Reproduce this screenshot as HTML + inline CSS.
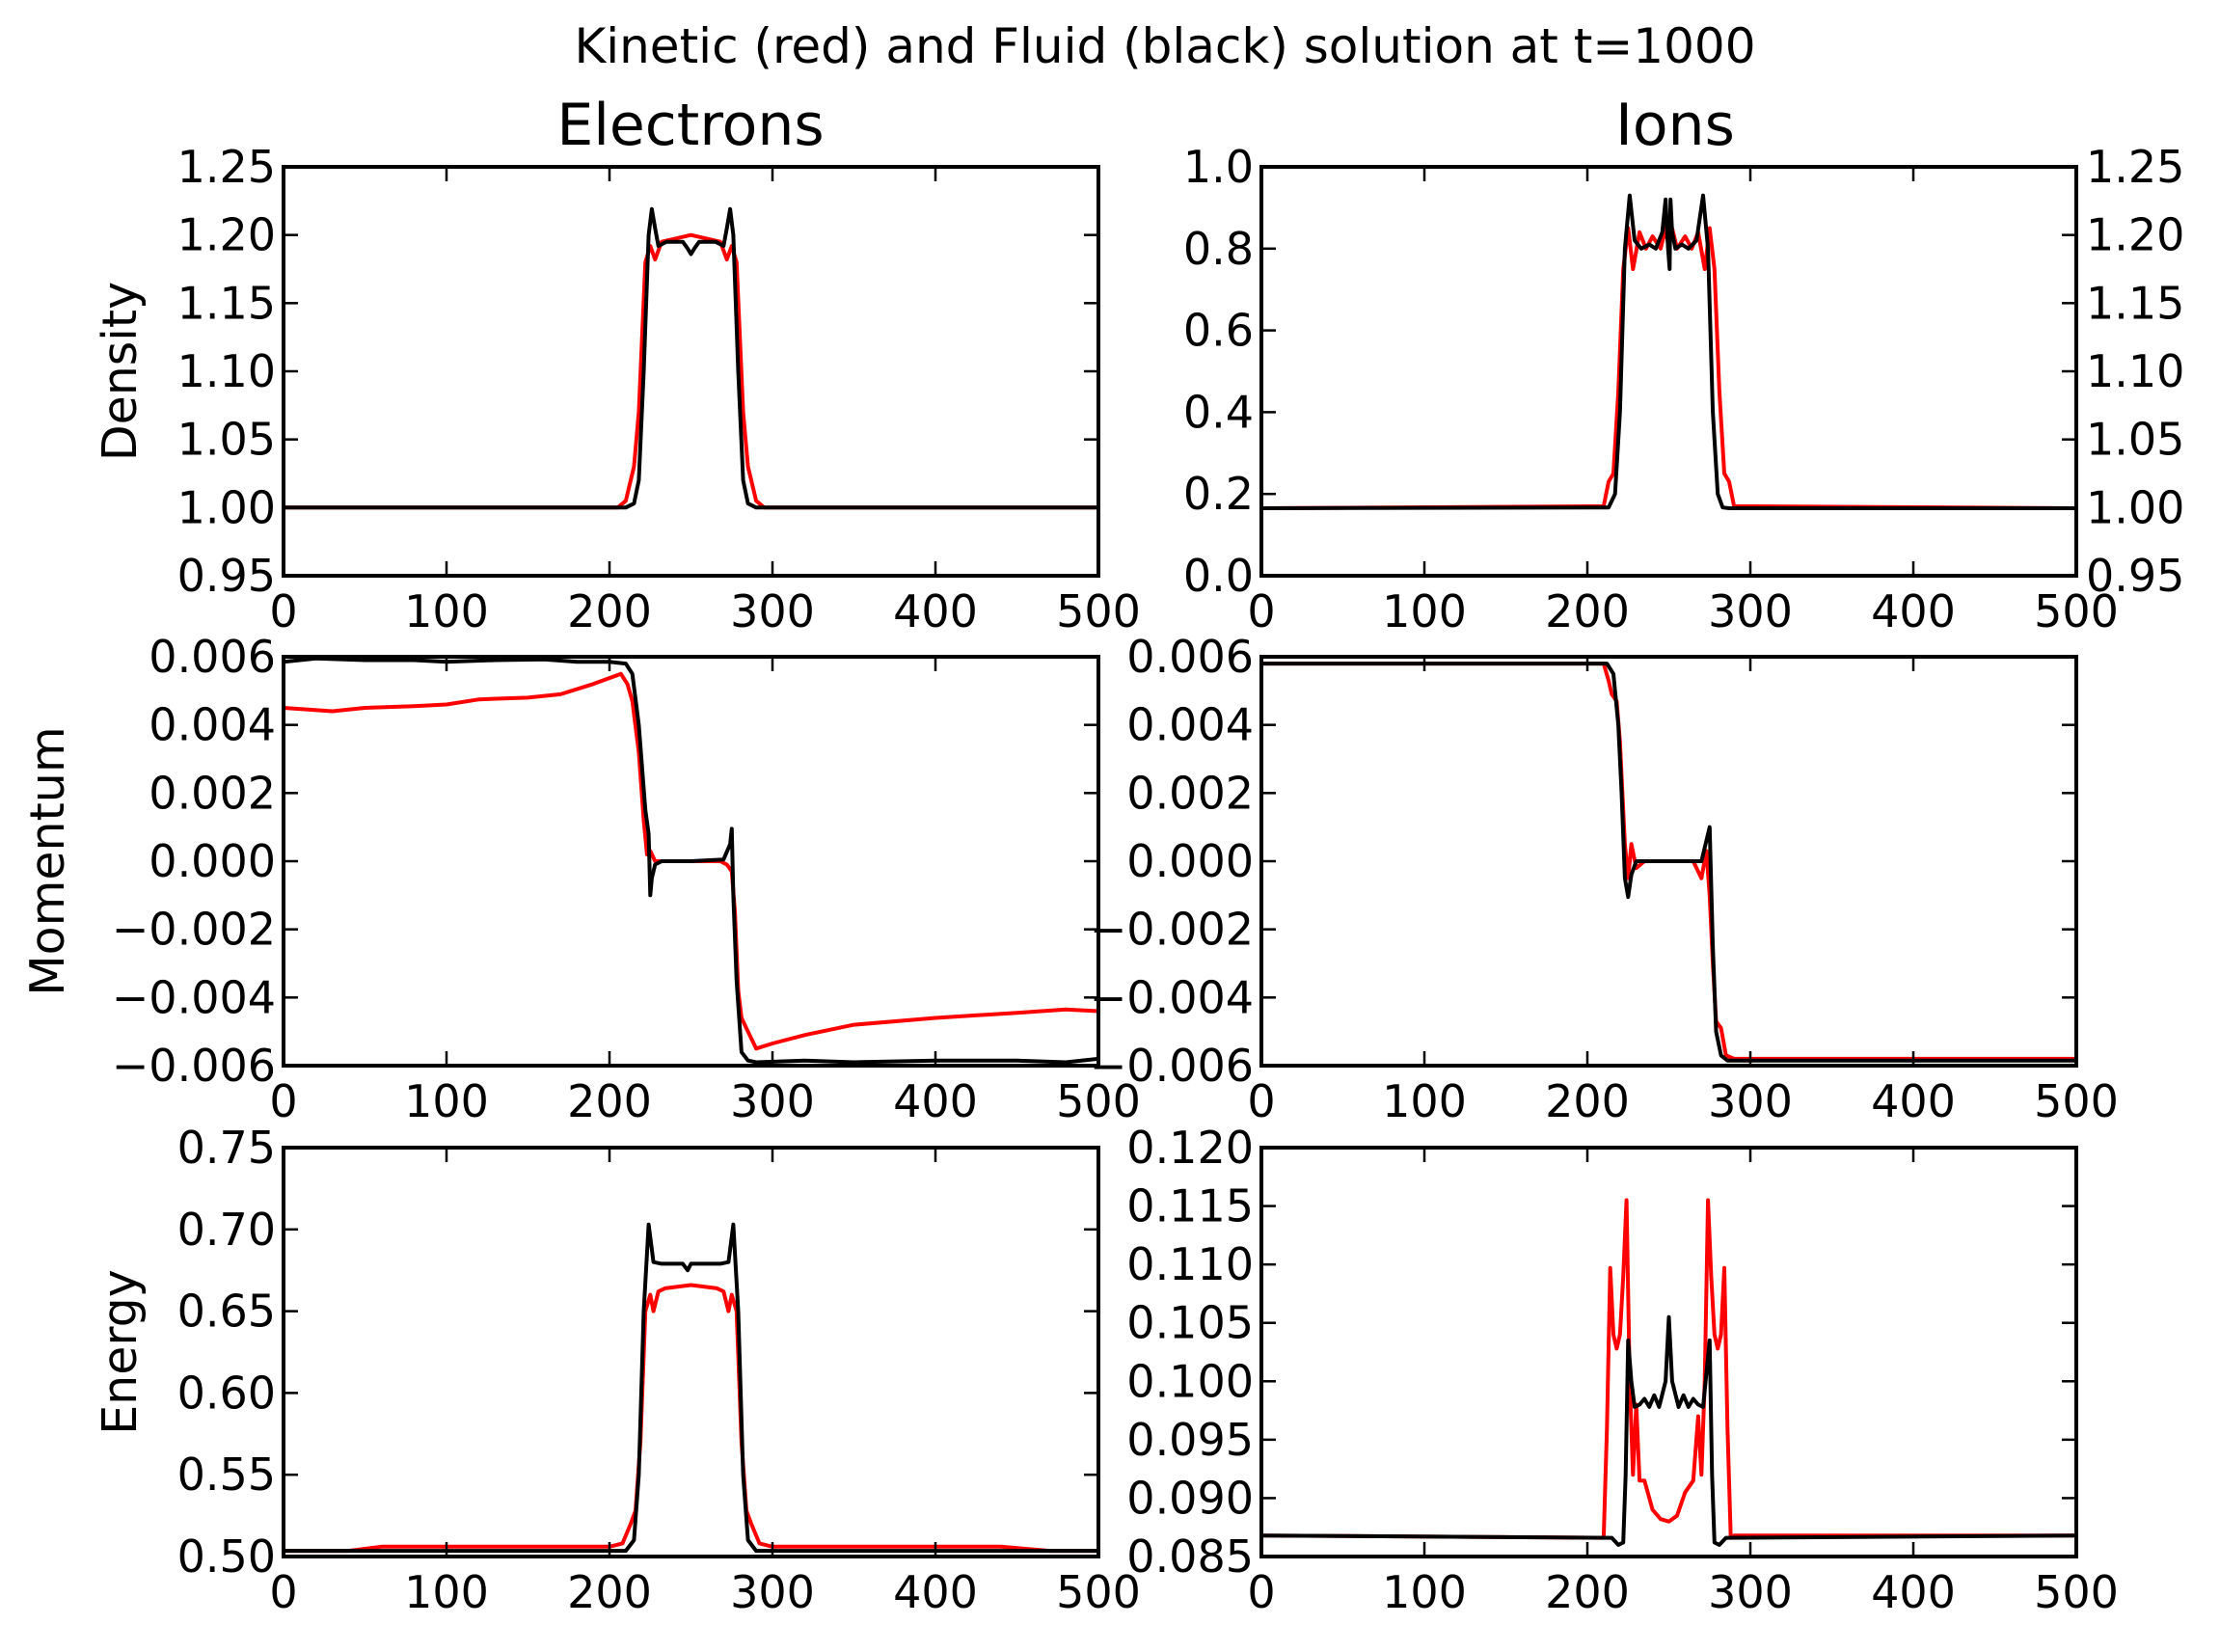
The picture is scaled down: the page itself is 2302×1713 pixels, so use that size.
<!DOCTYPE html>
<html><head><meta charset="utf-8"><style>
body{margin:0;background:#fff}
svg text{font-family:"DejaVu Sans","Liberation Sans",sans-serif;fill:#000}
</style></head><body>
<svg id="fig" width="2302" height="1708" viewBox="0 0 2302 1708" xmlns="http://www.w3.org/2000/svg">
<rect width="2302" height="1708" fill="#fff"/>
<text x="1208" y="65" font-size="50" text-anchor="middle">Kinetic (red) and Fluid (black) solution at t=1000</text>
<text x="716" y="150" font-size="60" text-anchor="middle">Electrons</text>
<text x="1737" y="150" font-size="60" text-anchor="middle">Ions</text>
<g id="plots"></g>
</svg>
<script>
// Electron density
const neX_red=[0,205,210,215,218,222,225,228,232,250,268,272,275,278,282,285,290,295,500];
const neY_red=[1.0,1.0,1.005,1.03,1.07,1.18,1.192,1.182,1.195,1.2,1.195,1.182,1.192,1.18,1.07,1.03,1.005,1.0,1.0];
const neX_blk=[0,210,215,218,221,224,226,228,230,235,245,248,250,252,255,265,270,272,274,276,279,282,285,290,500];
const neY_blk=[1,1,1.003,1.02,1.1,1.2,1.219,1.205,1.192,1.195,1.195,1.19,1.186,1.19,1.195,1.195,1.192,1.205,1.219,1.2,1.1,1.02,1.003,1.0,1.0];
// Ion density
const niX_red=[0,210,213,216,219,222,225,228,232,236,240,245,248,250,252,255,260,264,268,272,275,278,281,284,287,290,500];
const niY_red=[0.165,0.17,0.23,0.25,0.45,0.75,0.85,0.75,0.84,0.8,0.83,0.8,0.85,0.8,0.85,0.8,0.83,0.8,0.84,0.75,0.85,0.75,0.45,0.25,0.23,0.17,0.165];
const niX_blk=[0,213,217,220,223,226,229,233,238,242,246,248,249.5,250.5,251,252,254,258,262,267,271,274,277,280,283,287,500];
const niY_blk=[0.165,0.167,0.2,0.4,0.8,0.93,0.82,0.8,0.81,0.8,0.84,0.92,0.8,0.75,0.92,0.84,0.8,0.81,0.8,0.82,0.93,0.8,0.4,0.2,0.167,0.165,0.165];
// Electron momentum (x1e-3)
const meX_red=[0,30,50,80,100,120,150,170,190,207,211,214,218,221,223,225,228,232,268,272,275,277,279,281,285,290,300,320,350,400,450,480,500];
const meY_red=[4.5,4.4,4.5,4.55,4.6,4.75,4.8,4.9,5.2,5.5,5.2,4.7,3.2,1.2,0.2,0.3,0.0,0.0,0.0,-0.1,-0.3,-1.5,-3.8,-4.6,-5.0,-5.5,-5.35,-5.1,-4.8,-4.6,-4.45,-4.35,-4.4];
const meX_blk=[0,20,50,80,100,130,160,180,200,210,214,218,222,224,225,226,228,232,250,270,274,275,276,278,281,285,290,320,350,400,450,480,500];
const meY_blk=[5.85,5.95,5.9,5.9,5.85,5.9,5.92,5.85,5.85,5.8,5.5,4.0,1.5,0.8,-1.0,-0.5,-0.1,0.0,0.0,0.05,0.5,0.95,-1.0,-3.5,-5.6,-5.85,-5.9,-5.85,-5.9,-5.85,-5.85,-5.9,-5.8];
// Ion momentum (x1e-3)
const miX_red=[0,210,213,215,218,220,223,225,227,230,235,265,270,273,275,277,279,282,285,290,500];
const miY_red=[5.8,5.8,5.3,4.9,4.7,3.5,0.5,-0.5,0.5,-0.2,0.0,0.0,-0.5,0.3,-1.0,-3.0,-4.7,-4.9,-5.7,-5.8,-5.8];
const miX_blk=[0,212,216,219,221,223,225,227,230,235,265,270,273,275,277,279,282,286,500];
const miY_blk=[5.8,5.8,5.5,4.0,2.0,-0.5,-1.05,-0.4,0.0,0.0,0.0,0.0,0.6,1.0,-2.5,-5.0,-5.7,-5.85,-5.85];
// Electron energy
const eeX_red=[0,40,60,200,208,213,216,219,222,225,227,230,234,250,266,270,273,275,278,281,284,287,292,300,440,470,500];
const eeY_red=[0.5035,0.5035,0.506,0.506,0.508,0.52,0.528,0.57,0.65,0.66,0.65,0.662,0.664,0.666,0.664,0.662,0.65,0.66,0.65,0.57,0.528,0.52,0.508,0.506,0.506,0.5035,0.5035];
const eeX_blk=[0,210,215,218,221,224,227,232,245,248,250,252,255,268,273,276,279,282,285,290,500];
const eeY_blk=[0.5035,0.5035,0.51,0.55,0.65,0.703,0.68,0.679,0.679,0.675,0.679,0.679,0.679,0.679,0.68,0.703,0.65,0.55,0.51,0.5035,0.5035];
// Ion energy
const eiX_red=[0,210,212,214,216,218,220,222,224,226,228,230,232,235,240,245,250,255,260,265,268,270,272,274,276,278,280,282,284,286,288,290,500];
const eiY_red=[0.0868,0.0866,0.096,0.1097,0.104,0.1028,0.104,0.109,0.1155,0.1,0.092,0.098,0.0915,0.0915,0.089,0.0882,0.088,0.0885,0.0905,0.0915,0.097,0.092,0.1,0.1155,0.109,0.104,0.1028,0.104,0.1097,0.096,0.0866,0.0868,0.0868];
const eiX_blk=[0,215,219,222,223.5,225,227,229,232,235,238,241,244,248,250,252,256,259,262,265,268,271,275,276.5,278,281,285,500];
const eiY_blk=[0.0868,0.0866,0.086,0.0862,0.092,0.1035,0.1,0.0978,0.098,0.0985,0.0978,0.0988,0.0978,0.1,0.1055,0.1,0.0978,0.0988,0.0978,0.0985,0.098,0.0978,0.1035,0.092,0.0862,0.086,0.0866,0.0868];

const xTicks=[0,100,200,300,400,500];
const densTicksE=[0.95,1.0,1.05,1.10,1.15,1.20,1.25];
const densTicksI=[0.0,0.2,0.4,0.6,0.8,1.0];
const momTicks=[-6,-4,-2,0,2,4,6];
const eneTicksE=[0.50,0.55,0.60,0.65,0.70,0.75];
const eneTicksI=[0.085,0.090,0.095,0.100,0.105,0.110,0.115,0.120];

const NS="http://www.w3.org/2000/svg";
const root=document.getElementById('plots');
function mk(tag,attrs,parent){const e=document.createElementNS(NS,tag);for(const k in attrs)e.setAttribute(k,attrs[k]);(parent||root).appendChild(e);return e;}
const minus=s=>s.replace('-','\u2212');

function panel(name,L,T,W,H,ymin,ymax,yticks,fmt,series,ylabel,ylabX,right){
  const g=mk('g',{});
  
  
  const sx=v=>L+(v-0)/500*W, sy=v=>T+H-(v-ymin)/(ymax-ymin)*H;
  const cp='cp-'+name;
  const defs=mk('defs',{},g);const c=mk('clipPath',{id:cp},defs);mk('rect',{x:L,y:T,width:W,height:H},c);
  for(const s of series){
    let d='';s.x.forEach((xv,i)=>{d+=(i?'L':'M')+sx(xv).toFixed(1)+','+sy(s.y[i]).toFixed(1);});
    const p=mk('path',{d:d,fill:'none',stroke:s.c,'stroke-width':4,'stroke-linejoin':'round','clip-path':'url(#'+cp+')'},g);
    
    
  }
  const fr=mk('rect',{x:L,y:T,width:W,height:H,fill:'none',stroke:'#000','stroke-width':4},g);
  
  
  for(const t of xTicks){
    const x=sx(t);
    mk('line',{x1:x,y1:T+H,x2:x,y2:T+H-15,stroke:'#000','stroke-width':2.5},g);
    mk('line',{x1:x,y1:T,x2:x,y2:T+15,stroke:'#000','stroke-width':2.5},g);
    const tx=mk('text',{x:x,y:T+H+53,'font-size':46,'text-anchor':'middle'},g);tx.textContent=t;
    
    
  }
  for(const t of yticks){
    const y=sy(t);
    mk('line',{x1:L,y1:y,x2:L+15,y2:y,stroke:'#000','stroke-width':2.5},g);
    if(!right) mk('line',{x1:L+W,y1:y,x2:L+W-15,y2:y,stroke:'#000','stroke-width':2.5},g);
    const ty=mk('text',{x:L-8,y:y+16,'font-size':46,'text-anchor':'end'},g);ty.textContent=fmt(t);
    
    
  }
  if(right){
    const r=right;const syr=v=>T+H-(v-r.min)/(r.max-r.min)*H;
    for(const t of r.ticks){
      const y=syr(t);
      mk('line',{x1:L+W,y1:y,x2:L+W-15,y2:y,stroke:'#000','stroke-width':2.5},g);
      const ty=mk('text',{x:L+W+10,y:y+16,'font-size':46,'text-anchor':'start'},g);ty.textContent=t.toFixed(2);
      
      
    }
  }
  if(ylabel){
    const yl=mk('text',{x:ylabX,y:T+H/2,'font-size':49,'text-anchor':'middle',transform:'rotate(-90 '+ylabX+' '+(T+H/2)+')'},g);
    yl.textContent=ylabel;
    
    
  }
}
const LL=294,RL=1308,W=845,H=424;
const T1=173,T2=681,T3=1190;
const f2=v=>v.toFixed(2), f1=v=>v.toFixed(1), f3=v=>minus((v/1000).toFixed(3)), f3b=v=>v.toFixed(3);
panel('electron-density',LL,T1,W,H,0.95,1.25,densTicksE,f2,[{x:neX_red,y:neY_red,c:'#ff0000',n:'kinetic-line'},{x:neX_blk,y:neY_blk,c:'#000',n:'fluid-line'}],'Density',141);
panel('ion-density',RL,T1,W,H,0,1,densTicksI,f1,[{x:niX_red,y:niY_red,c:'#ff0000',n:'kinetic-line'},{x:niX_blk,y:niY_blk,c:'#000',n:'fluid-line'}],null,0,{min:0.95,max:1.25,ticks:densTicksE});
panel('electron-momentum',LL,T2,W,H,-6,6,momTicks,f3,[{x:meX_red,y:meY_red,c:'#ff0000',n:'kinetic-line'},{x:meX_blk,y:meY_blk,c:'#000',n:'fluid-line'}],'Momentum',66);
panel('ion-momentum',RL,T2,W,H,-6,6,momTicks,f3,[{x:miX_red,y:miY_red,c:'#ff0000',n:'kinetic-line'},{x:miX_blk,y:miY_blk,c:'#000',n:'fluid-line'}],null,0);
panel('electron-energy',LL,T3,W,H,0.5,0.75,eneTicksE,f2,[{x:eeX_red,y:eeY_red,c:'#ff0000',n:'kinetic-line'},{x:eeX_blk,y:eeY_blk,c:'#000',n:'fluid-line'}],'Energy',141);
panel('ion-energy',RL,T3,W,H,0.085,0.12,eneTicksI,f3b,[{x:eiX_red,y:eiY_red,c:'#ff0000',n:'kinetic-line'},{x:eiX_blk,y:eiY_blk,c:'#000',n:'fluid-line'}],null,0);
</script>
</body></html>
